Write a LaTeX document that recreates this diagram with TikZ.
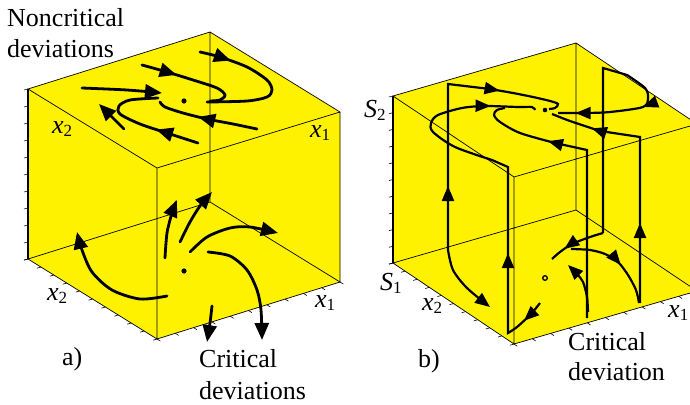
\documentclass[tikz,border=0pt]{standalone}
\usepackage{fontspec}
\setmainfont{Liberation Serif}
\usetikzlibrary{arrows.meta,decorations.markings}
\newcommand\sublab[2]{\textit{#1}\raisebox{-0.12em}{\fontsize{17}{17}\selectfont #2}}
\tikzset{
  cube/.style={draw=black, line width=0.7pt, line join=miter},
  tickmk/.style={draw=black, line width=0.6pt},
  trajA/.style={line width=2.8pt, line cap=round},
  trajB/.style={line width=2.2pt, line join=miter},
  endA/.style={-{Triangle[length=17pt,width=14pt]}},
  endB/.style={-{Triangle[length=15pt,width=12pt]}},
  midA/.style={postaction={decorate,decoration={markings,mark=at position #1 with {\arrow{Triangle[length=17pt,width=14pt]}}}}},
  midB/.style={postaction={decorate,decoration={markings,mark=at position #1 with {\arrow{Triangle[length=15pt,width=12pt]}}}}},
  lbl/.style={anchor=base west, inner sep=0pt, font=\fontsize{26}{30}\selectfont},
}
\begin{document}
\begin{tikzpicture}[x=1pt,y=-1pt]
\useasboundingbox (0,0) rectangle (690,404);
% ---------------- left cube ----------------
\coordinate (LA) at (28,89);   \coordinate (LB) at (210,32);
\coordinate (LC) at (340,112); \coordinate (LD) at (157,168);
\coordinate (LA2) at (28,259); \coordinate (LB2) at (210,202);
\coordinate (LC2) at (340,282);\coordinate (LD2) at (157,339);
\fill[yellow] (LA)--(LB)--(LC)--(LC2)--(LD2)--(LA2)--cycle;
\draw[cube] (LA)--(LB)--(LC)--(LD)--cycle (LA2)--(LB2)--(LC2)--(LD2)--cycle
  (LB)--(LB2) (LC)--(LC2) (LD)--(LD2);
\draw[cube, line width=1.1pt] (LA)--(LA2);
\foreach \i in {0,...,10}{
  \draw[tickmk] (28,89+17*\i) -- ++(-4,1);
  \draw[tickmk] (28+12.9*\i,259+8*\i) -- ++(-4,1.2);
  \draw[tickmk] (157+18.3*\i,339-5.7*\i) -- ++(3.4,2.1);
}
% top plane trajectories
\draw[trajA, midA=32pt] plot[smooth] coordinates {(200,52) (220,57) (247,67) (267,80) (272,90) (267,97) (247,101) (207,102)};
\draw[trajA, midA=36pt] plot[smooth] coordinates {(142,65) (167,72) (193,80) (217,88) (225,95) (220,100) (210,101)};
\draw[trajA, endA] plot[smooth] coordinates {(82,88) (127,90) (162,93)};
\draw[trajA, midA=60pt] plot[smooth] coordinates {(257,129) (233,124) (207,119) (183,113) (165,107) (160,102)};
\draw[trajA, midA=44pt] plot[smooth] coordinates {(198,143) (167,133) (140,124) (120,114) (119,106) (130,100) (158,98)};
\draw[trajA, endA] plot[smooth] coordinates {(124,129) (112,117) (99,104)};
\fill (184,101) circle (2.6);
% bottom plane trajectories
\draw[trajA, endA] plot[smooth] coordinates {(167,296) (140,299) (112,290) (92,272) (82,250) (77,232)};
\draw[trajA, endA] plot[smooth] coordinates {(165,258) (167,233) (172,213) (177,200)};
\draw[trajA, endA] plot[smooth] coordinates {(180,242) (190,222) (200,206) (212,192)};
\draw[trajA, endA] plot[smooth] coordinates {(190,252) (207,237) (230,228) (250,227) (278,233)};
\draw[trajA, endA] plot[smooth] coordinates {(208,252) (230,256) (247,270) (257,290) (261,310) (262,340)};
\draw[trajA, endA] plot[smooth] coordinates {(212,306) (210,323) (207,342)};
\fill (184,271) circle (2.6);
% ---------------- right cube ----------------
\coordinate (RA) at (393,96);   \coordinate (RB) at (576,43);
\coordinate (RC) at (697,124);  \coordinate (RD) at (514,177);
\coordinate (RA2) at (393,263); \coordinate (RB2) at (576,210);
\coordinate (RC2) at (697,291); \coordinate (RD2) at (514,344);
\fill[yellow] (RA)--(RB)--(RC)--(RC2)--(RD2)--(RA2)--cycle;
\draw[cube] (RA)--(RB)--(RC)--(RD)--cycle (RA2)--(RB2)--(RC2)--(RD2)--cycle
  (RB)--(RB2) (RC)--(RC2) (RD)--(RD2);
\draw[cube, line width=1.1pt] (RA)--(RA2);
\foreach \i in {0,...,10}{
  \draw[tickmk] (393,96+16.7*\i) -- ++(-4,1);
  \draw[tickmk] (393+12.1*\i,263+8.1*\i) -- ++(-4,1.2);
  \draw[tickmk] (514+18.3*\i,344-5.3*\i) -- ++(3.3,2.2);
}
% P1
\draw[trajB, midB=64pt, midB=218pt] (448,250) -- (448,84) -- plot[smooth] coordinates {(490,89) (513,93) (533,97) (550,101) (558,104) (555,108) (549,109)};
\draw[trajB, endB] plot[smooth] coordinates {(448,250) (453,270) (467,288) (490,307)};
% P2
\draw[trajB, midB=24pt, midB=124pt, midB=368pt] plot[smooth] coordinates {(540,303) (531,314) (517,327) (508,333)} -- (508,167) -- plot[smooth] coordinates {(492,160) (455,147) (433,132) (431,123) (438,115) (462,108) (485,106) (518,107) (532,107) (535,110)};
% P3
\draw[trajB, midB=42pt] plot[smooth] coordinates {(603,233) (590,237) (572,244) (560,252) (552,259)};
\draw[trajB, midB=234pt, midB=302pt] (603,233) -- (603,68) -- plot[smooth] coordinates {(627,75) (645,88) (648,98) (643,107) (610,112) (585,113) (558,113)};
% P4
\draw[trajB, midB=208pt] (587,318) -- (587,150) -- plot[smooth] coordinates {(555,143) (520,133) (500,122) (494,115) (497,110) (505,108)};
\draw[trajB, endB] plot[smooth] coordinates {(588,312) (587,297) (583,282) (577,274) (568,265)};
% P5
\draw[trajB, midB=80pt, midB=215pt] (640,303) -- (640,137) -- plot[smooth] coordinates {(600,131) (570,121) (552,114)};
\draw[trajB, midB=54pt] plot[smooth] coordinates {(571,249) (590,250) (605,254) (618,262) (628,275) (636,290) (639,303)};
\fill (545,110) circle (2.3);
\draw[line width=1.3pt] (545,278) circle (2.3);
% ---------------- labels ----------------
\node[lbl] (nc1) at (7,27) {Noncritical};
\node[lbl] (nc2) at (7,57) {deviations};
\node[lbl] (lx2t) at (52,133) {\sublab{x}{2}};
\node[lbl] (lx1t) at (310,137) {\sublab{x}{1}};
\node[lbl] (lx2b) at (47,300) {\sublab{x}{2}};
\node[lbl] (lx1b) at (315,307) {\sublab{x}{1}};
\node[lbl] (la) at (62,365) {a)};
\node[lbl] (cr1) at (199,367) {Critical};
\node[lbl] (cr2) at (199,399) {deviations};
\node[lbl] (rs2) at (364,117) {\sublab{S}{2}};
\node[lbl] (rs1) at (380,290) {\sublab{S}{1}};
\node[lbl] (rx2) at (422,310) {\sublab{x}{2}};
\node[lbl] (rx1) at (668,317) {\sublab{x}{1}};
\node[lbl] (lb) at (418,367) {b)};
\node[lbl] (cd1) at (568,350) {Critical};
\node[lbl] (cd2) at (568,380) {deviation};
\end{tikzpicture}
\end{document}
